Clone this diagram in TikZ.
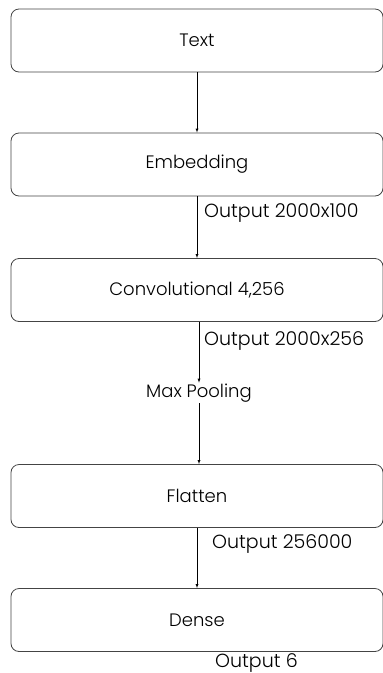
\documentclass[tikz,border=0pt]{standalone}
\usepackage{fontspec}
\setmainfont{Poppins}[UprightFont=* Light]
\usetikzlibrary{arrows}
\definecolor{boxline}{HTML}{444444}
\tikzset{
  layer/.style={rectangle, draw=boxline, line width=0.8pt, rounded corners=8pt,
    minimum width=372pt, minimum height=63pt, font=\fontsize{18}{21}\selectfont},
  outlabel/.style={anchor=base west, inner sep=0pt, font=\fontsize{19}{22}\selectfont},
}
\begin{document}
\begin{tikzpicture}[x=1pt,y=-1pt]
            \useasboundingbox (0,0) rectangle (383,673);
            \node[layer] (text) at (197,40.5) {Text};
            \node[layer] (embed) at (197,164.5) {Embedding};
            \node[layer] (conv) at (197,290) {Convolutional 4,256};
            \node[inner sep=1pt, font=\fontsize{18}{21}\selectfont] (pool) at (199,393) {Max Pooling};
            \node[layer] (flat) at (197,496) {Flatten};
            \node[layer] (dense) at (197,620) {Dense};
            % sizes of the outputs
            \node[outlabel] (outembed) at (204,217) {Output 2000x100};
            \node[outlabel] (outconv) at (204,345) {Output 2000x256};
            \node[outlabel] (outflat) at (212,548) {Output 256000};
            \node[outlabel] (outdense) at (215,667.5) {Output 6};
            \draw[-latex] (text) -- (embed);
            \draw[-latex] (embed) -- (conv);
            \draw[-latex] (conv.south -| pool) -- (pool);
            \draw[-latex] (pool) -- (flat.north -| pool);
            \draw[-latex] (flat) -- (dense);
        \end{tikzpicture}
\end{document}
